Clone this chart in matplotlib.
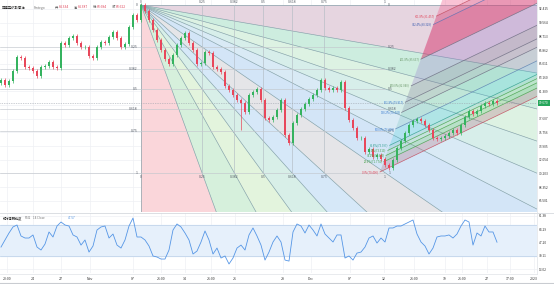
import numpy as np
import matplotlib.pyplot as plt
from matplotlib.patches import Polygon

plt.rcParams['font.family'] = ['Noto Sans CJK SC', 'DejaVu Sans']

# closing prices, one bar every ~4 px of the reference
closes = [82.82, 82.15, 82.69, 84.04, 85.93, 85.79, 84.58, 84.44, 84.04, 83.36,
          84.58, 84.71, 85.25, 84.58, 84.44, 87.82, 87.55, 88.50, 88.77, 87.82,
          87.28, 87.28, 86.06, 85.79, 87.28, 87.96, 87.82, 88.63, 89.31, 88.50,
          87.28, 87.69, 89.98, 91.60, 90.93, 92.95, 92.14, 90.93, 89.58, 88.23,
          86.87, 85.66, 84.98, 86.20, 87.55, 88.50, 89.17, 87.82, 86.87, 84.98,
          85.12, 86.60, 86.47, 84.58, 84.31, 83.90, 82.01, 81.47, 80.80, 80.12,
          79.71, 78.50, 80.80, 81.20, 81.61, 80.12, 77.69, 77.42, 77.82, 78.77,
          80.12, 75.39, 74.31, 77.01, 78.09, 78.90, 79.58, 80.26, 80.80, 81.47,
          82.82, 81.74, 81.47, 81.74, 81.47, 82.55, 79.04, 77.42, 76.34, 74.99,
          74.99, 73.09, 73.50, 72.42, 72.69, 72.15, 71.34, 70.93, 72.01, 73.63,
          74.58, 75.66, 76.74, 77.28, 77.55, 77.28, 76.74, 76.07, 74.99, 74.85,
          74.99, 75.26, 75.66, 76.07, 75.66, 76.74, 77.82, 78.63, 78.23, 78.63,
          79.31, 79.71, 79.58, 79.98, 79.67]
first_open = 82.40
wick = 0.25
spike_lows = {60: 76.10}

rsi_vals = [41.4, 50.4, 59.3, 67.0, 69.5, 55.5, 52.9, 52.9, 56.8, 41.4,
            37.6, 45.2, 60.6, 54.2, 68.2, 73.3, 69.5, 68.2, 56.8, 54.2,
            43.9, 50.4, 35.0, 42.7, 63.1, 67.0, 68.2, 52.9, 58.0, 43.9,
            40.1, 50.4, 68.2, 78.4, 54.2, 54.2, 50.4, 42.7, 30.0, 28.7,
            26.1, 26.1, 37.6, 63.1, 70.8, 67.0, 59.3, 50.4, 32.5, 36.3,
            47.8, 61.9, 50.4, 32.5, 40.1, 27.4, 30.0, 19.8, 27.4, 40.1,
            43.9, 37.6, 56.8, 65.7, 55.5, 43.9, 24.8, 35.0, 47.8, 55.5,
            47.8, 24.8, 23.5, 60.6, 70.8, 68.2, 59.3, 69.5, 63.1, 55.5,
            70.8, 58.0, 52.9, 47.8, 56.8, 56.8, 27.4, 30.0, 24.8, 33.7,
            35.0, 41.4, 52.9, 55.5, 46.5, 52.9, 47.8, 65.7, 65.7, 68.2,
            68.2, 70.8, 73.3, 75.9, 58.0, 47.8, 42.7, 32.5, 40.1, 54.2,
            55.5, 55.5, 56.8, 52.9, 58.0, 68.2, 75.9, 73.3, 43.9, 59.3,
            55.5, 68.2, 60.6, 60.6, 47.57]

price_ticks = [92.415, 90.564, 88.713, 86.862, 85.011, 83.160, 81.309, 79.458,
               77.607, 75.756, 73.905, 72.054, 70.203, 68.352, 66.501]
rsi_ticks = [81.38, 64.29, 47.20, 30.11, 13.02]
time_pos = [1.5, 8, 15, 22.25, 33, 40, 46, 52.5, 58.5, 70.5, 77.5, 87.25,
            95.75, 103.25, 111, 115.25, 121.5, 127.25, 133.25]
time_labels = ['20:00', '24', '27', 'Nov', '07', '21:00', '14', '21:00', '21', '28',
               'Dec', '07', '12', '21:00', '19', '21:00', '27', '17:00', '2023']

# fib speed resistance fan anchors (bar, price)
fan_a = (35, 92.95)
fan_b = (96, 70.30)
fan_levels = [0.25, 0.382, 0.5, 0.618, 0.75]
fan_fills = ['#fad6da', '#d6f0dc', '#e3f4dd', '#d8efe8', '#d6e8f8', '#e5e5e8',
             '#d3e5f7', '#d9eaf5', '#d7eeea', '#ddf2e3', '#cdeddf', '#e6d5e0']

# fib channel: base start, slope per bar, shift per 100%
chan_start = (94.75, 70.40)
chan_slope = 0.26
chan_shift = (3.9, 5.82)
chan_levels = [0, 0.236, 0.382, 0.5, 0.618, 1, 1.382, 1.618, 2, 2.618, 3.424, 3.618, 4.236]
chan_fills = [('#b06878', .28), ('#4caf50', .22), ('#66bb6a', .16), ('#26a69a', .16),
              ('#26c6da', .22), ('#4db6ac', .20), ('#78909c', .28), ('#7e7e9e', .32),
              ('#9575cd', .28), ('#d6336c', .50), ('#d6336c', .42), ('#f06292', .38)]
chan_lines = ['#c2485a', '#43a047', '#43a047', '#43a047', '#2e9e8e', '#5a7fb0', '#6b6b80',
              '#6b6b80', '#6b6b80', '#6b6b80', '#5a6bb0', '#c2485a', '#c2485a']
chan_label_colors = ['#e0455a', '#43a047', '#43a047', '#43a047', '#2e9e8e', '#3f7fd0', '#3f7fd0',
                     '#3f7fd0', '#6d9a6d', '#6d9a6d', '#3f5fb0', '#e0455a', '#e0455a']

W, H, PR = 554, 284, 537
XMIN, XMAX = -0.25, 134.0
YMIN, YMAX = 64.99, 93.63
up_c, dn_c = '#35b35f', '#e8475b'

n = len(closes)
idx = np.arange(n)
closes = np.array(closes)
opens = np.r_[first_open, closes[:-1]]
highs = np.maximum(opens, closes) + wick
lows = np.minimum(opens, closes) - wick
for k, v in spike_lows.items():
    lows[k] = v

fig = plt.figure(figsize=(W / 100, H / 100), dpi=100)
ax = fig.add_axes([0, (H - 212) / H, PR / W, 212 / H])
ax2 = fig.add_axes([0, (H - 273) / H, PR / W, 60 / H])

for a in (ax, ax2):
    a.set_xlim(XMIN, XMAX)
    for s in a.spines.values():
        s.set_visible(False)
    for t in time_pos:
        a.axvline(t, color='#eef0f4', lw=0.5, zorder=0)
ax.set_ylim(YMIN, YMAX)
ax2.set_ylim(8.3, 84.8)
for p in price_ticks:
    ax.axhline(p, color='#eef0f4', lw=0.5, zorder=0)
for r in rsi_ticks:
    ax2.axhline(r, color='#eef0f4', lw=0.5, zorder=0)

# ---- speed resistance fan ----
axx, ap = fan_a
bx, bp = fan_b
dx, dp = bx - axx, bp - ap
far = 20
rays = [(axx, bp)] + [(axx + f * dx, bp) for f in fan_levels] + [(bx, bp)]
rays += [(bx, ap + f * dp) for f in reversed(fan_levels)] + [(bx, ap)]
far_pts = [(axx + far * (x - axx), ap + far * (y - ap)) for x, y in rays]
for k in range(len(rays) - 1):
    ax.add_patch(Polygon([fan_a, far_pts[k], far_pts[k + 1]], closed=True,
                         facecolor=fan_fills[k], edgecolor='none', zorder=1))
for fp in far_pts:
    ax.plot([axx, fp[0]], [ap, fp[1]], color='#7f9ea6', lw=0.45, zorder=2)
# grid inside fan box
for f in fan_levels:
    ax.plot([axx + f * dx] * 2, [ap, bp], color='#b3bcc4', lw=0.45, zorder=2)
    ax.plot([XMIN, bx], [ap + f * dp] * 2, color='#c2c7cd', lw=0.45, zorder=2)
ax.plot([XMIN, bx], [bp, bp], color='#c2c7cd', lw=0.45, zorder=2)
lab = dict(fontsize=2.5, color='#555c66', zorder=6)
for f in [0] + fan_levels + [1]:
    name = f'{f:g}'
    ax.text(axx + f * dx, ap + 0.2, name, ha='center', va='bottom', **lab)
    ax.text(axx + f * dx, bp - 0.3, name, ha='center', va='top', **lab)
    ax.text(axx - 0.8, ap + f * dp, name, ha='right', va='center', **lab)
    ax.text(bx + 0.8, ap + f * dp, name, ha='left', va='center', **lab)

# ---- fib channel ----
cx0, cp0 = chan_start
sx, sp = chan_shift
starts = [(cx0 + f * sx, cp0 + f * sp) for f in chan_levels]
ends = [(XMAX, y + chan_slope * (XMAX - x)) for x, y in starts]
for k in range(1, len(chan_levels)):
    col, al = chan_fills[k - 1]
    ax.add_patch(Polygon([starts[k - 1], ends[k - 1], ends[k], starts[k]], closed=True,
                         facecolor=col, alpha=al, edgecolor='none', zorder=3))
for k, f in enumerate(chan_levels):
    ax.plot([starts[k][0], ends[k][0]], [starts[k][1], ends[k][1]],
            color=chan_lines[k], lw=0.5, alpha=0.85, zorder=3.5)
    if starts[k][1] < YMAX - 0.6:
        ax.text(starts[k][0] - 0.3, starts[k][1], f'{f * 100:.1f}%({starts[k][1]:.3f})',
                ha='right', va='center', fontsize=2.0, color=chan_label_colors[k], zorder=6)

# ---- candles ----
colors = np.where(closes >= opens, up_c, dn_c)
ax.vlines(idx, lows, highs, colors=colors, lw=0.5, zorder=5)
ax.bar(idx, np.abs(closes - opens) + 0.04, bottom=np.minimum(opens, closes),
       width=0.5, color=colors, zorder=5)

# current price
last = closes[-1]
ax.axhline(last, color='#9aa0aa', lw=0.5, ls=(0, (1, 1.5)), zorder=4)
ax.text(1.004, last, f'{last:.3f}', transform=ax.get_yaxis_transform(), ha='left',
        va='center', fontsize=2.3, color='white', clip_on=False,
        bbox=dict(boxstyle='square,pad=0.3', fc='#26a65b', ec='none'))

ax.yaxis.tick_right()
ax.set_yticks(price_ticks)
ax.set_yticklabels(['' if abs(p - last) < 0.8 else f'{p:.3f}' for p in price_ticks])
ax.tick_params(axis='y', length=0, pad=1.2, labelsize=2.3, labelcolor='#333')
ax.set_xticks([])

# ---- RSI panel ----
ax2.axhspan(30, 70, color='#e6f0fb', zorder=0.5)
ax2.axhline(70, color='#bcd0e8', lw=0.5, zorder=1)
ax2.axhline(30, color='#bcd0e8', lw=0.5, zorder=1)
ax2.plot(idx, rsi_vals, color='#5596e6', lw=0.6, zorder=3)
ax2.yaxis.tick_right()
ax2.set_yticks(rsi_ticks)
ax2.set_yticklabels([f'{r:.2f}' for r in rsi_ticks])
ax2.tick_params(axis='y', length=0, pad=1.2, labelsize=2.3, labelcolor='#333')
ax2.set_xticks(time_pos)
ax2.set_xticklabels(time_labels)
ax2.tick_params(axis='x', length=0, pad=2.6, labelsize=2.5, labelcolor='#333')

# separators
fig.add_artist(plt.Line2D([0, 1], [(H - 212.5) / H] * 2, color='#d6d9de', lw=0.6))
fig.add_artist(plt.Line2D([0, PR / W], [(H - 273.5) / H] * 2, color='#e0e3e8', lw=0.5))
fig.add_artist(plt.Line2D([0, 1], [(H - 282.5) / H] * 2, color='#c9ccd1', lw=0.8))
fig.add_artist(plt.Line2D([PR / W] * 2, [(H - 273.5) / H, 1], color='#e0e3e8', lw=0.5))

# headers
def ftext(x, y, s, **kw):
    fig.text(x / W, 1 - y / H, s, va='center', ha='left', **kw)

ftext(2, 7.5, '西德克萨斯原油', fontsize=2.4, color='#222')
ftext(34, 7.5, 'Fintego', fontsize=2.4, color='#777')
hdr = [('开', '84.334', 55), ('高', '84.387', 74), ('低', '83.684', 93), ('收', '83.622', 112)]
for k, v, x in hdr:
    ftext(x, 7.5, k, fontsize=2.4, color='#555')
    ftext(x + 4, 7.5, v, fontsize=2.4, color='#e0455a')
ftext(3, 217.7, '相对强弱指数', fontsize=2.3, color='#222')
ftext(25, 217.7, 'RSI2', fontsize=2.2, color='#777')
ftext(33, 217.7, '14 Close', fontsize=2.2, color='#777')
ftext(68, 217.7, f'{rsi_vals[-1]:.2f}', fontsize=2.2, color='#4a8fe0')

fig.savefig('out.png', dpi=100)
